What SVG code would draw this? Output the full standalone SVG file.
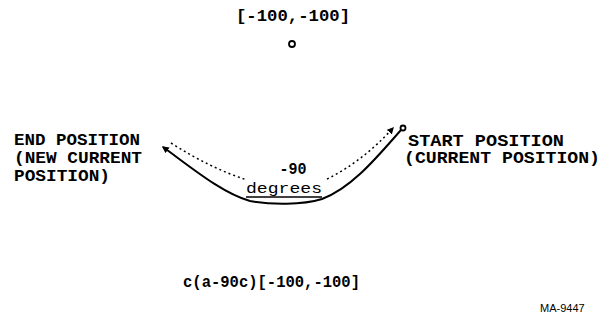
<svg xmlns="http://www.w3.org/2000/svg" width="602" height="321" viewBox="0 0 602 321">
<defs>
<style>
.t{font-family:"Liberation Mono","DejaVu Sans Mono",monospace;font-weight:bold;font-size:16px;fill:#000}
.s{font-family:"Liberation Sans",Arial,sans-serif;font-size:11px;fill:#000}
.arc{fill:none;stroke:#000;stroke-width:2}
.dot{fill:none;stroke:#000;stroke-width:1.5;stroke-dasharray:2 3}
</style>
<marker id="ah" viewBox="0 0 10 10" refX="8" refY="5" markerWidth="7" markerHeight="7" orient="auto-start-reverse" markerUnits="userSpaceOnUse">
<path d="M0,0 L10,5 L0,10 z" fill="#000"/>
</marker>
</defs>
<rect width="602" height="321" fill="#fff"/>
<g id="origin">
<text class="t" x="293" y="21" text-anchor="middle" textLength="114" lengthAdjust="spacingAndGlyphs">[-100,-100]</text>
<circle cx="292" cy="44" r="3" fill="none" stroke="#000" stroke-width="1.8"/>
</g>
<g id="end">
<text class="t" x="14" y="145" textLength="126" lengthAdjust="spacingAndGlyphs">END POSITION</text>
<text class="t" x="14" y="163" textLength="128" lengthAdjust="spacingAndGlyphs">(NEW CURRENT</text>
<text class="t" x="14" y="181" textLength="96" lengthAdjust="spacingAndGlyphs">POSITION)</text>
</g>
<g id="start">
<text class="t" x="408" y="146" textLength="156" lengthAdjust="spacingAndGlyphs">START POSITION</text>
<text class="t" x="404" y="163" textLength="196" lengthAdjust="spacingAndGlyphs">(CURRENT POSITION)</text>
<circle cx="403" cy="128" r="2.5" fill="none" stroke="#000" stroke-width="1.8"/>
</g>
<g id="connectors">
<path class="arc" d="M401,130 C378,156 352,188 322,199 C302,205 272,205 250,201 C222,193 192,168 163,147" marker-end="url(#ah)"/>
<path class="dot" d="M171,143 Q210,168 247,180"/>
<path class="dot" d="M327,179 Q362,162 393,128" marker-end="url(#ah)"/>
</g>
<g id="angle">
<text class="t" x="293" y="174" text-anchor="middle" textLength="27" lengthAdjust="spacingAndGlyphs">-90</text>
<text class="t" x="284" y="193" text-anchor="middle" textLength="76" lengthAdjust="spacingAndGlyphs" style="font-weight:normal;font-size:15px">degrees</text>
<line x1="246" y1="197" x2="322" y2="197" stroke="#000" stroke-width="1.5"/>
</g>
<g id="command">
<text class="t" x="183" y="287" textLength="177" lengthAdjust="spacingAndGlyphs">c(a-90c)[-100,-100]</text>
</g>
<text class="s" x="540" y="312">MA-9447</text>
</svg>
